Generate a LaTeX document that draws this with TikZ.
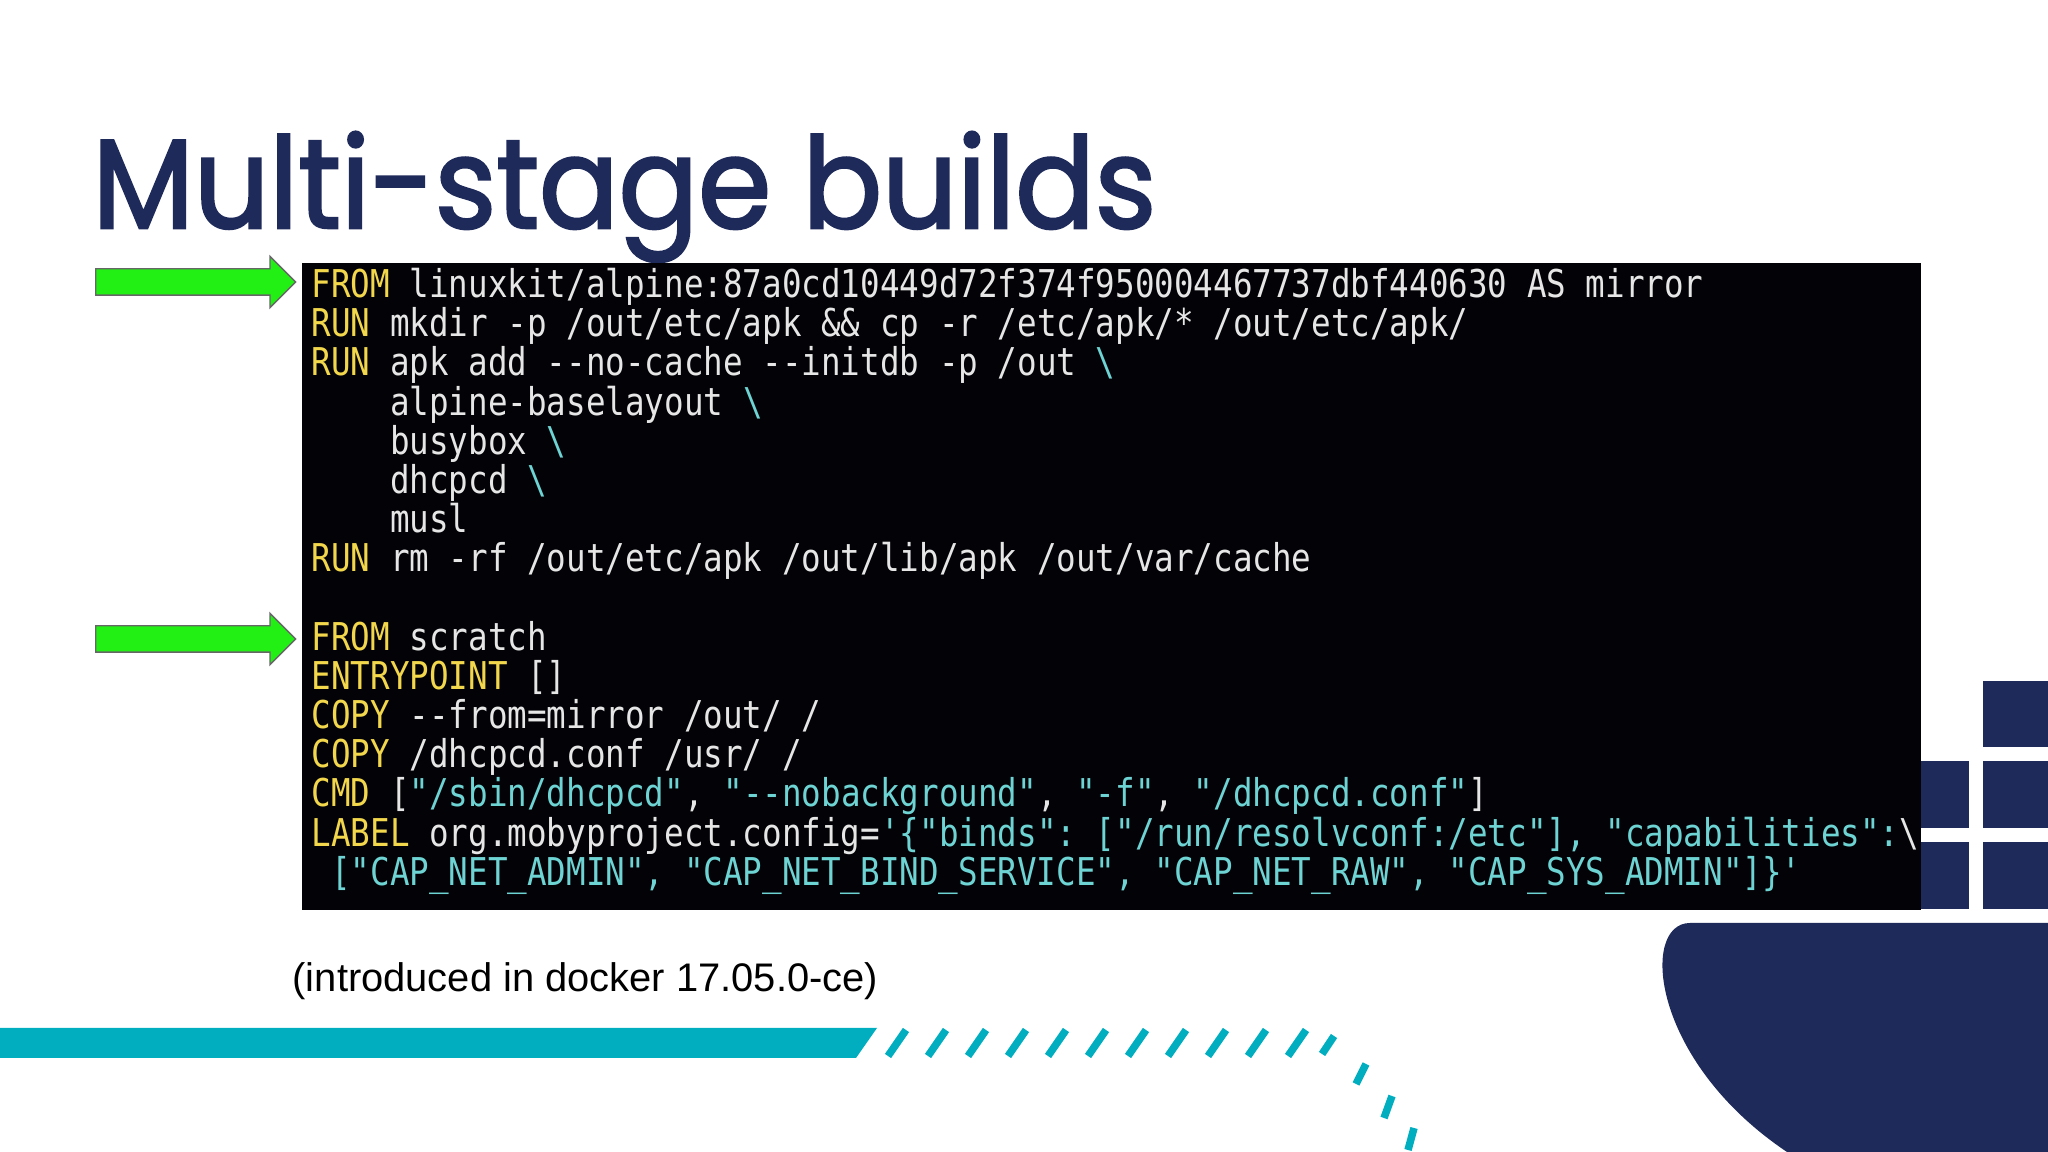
\documentclass[tikz,border=0pt]{standalone}
\usepackage{fontspec}
\setmainfont{Liberation Sans}
\setmonofont{DejaVu Sans Mono}[FakeStretch=0.85]
\newfontfamily\titlefont{Poppins}[FakeStretch=0.93, FakeBold=2]
\usetikzlibrary{positioning, shapes.arrows}

\definecolor{navy}{HTML}{1E2A5A}
\definecolor{teal}{HTML}{00AEC0}
\definecolor{termbg}{HTML}{020207}
\definecolor{kwyellow}{HTML}{F2D64B}
\definecolor{strcyan}{HTML}{6ED3D3}
\definecolor{codewhite}{HTML}{E6E6E6}
\definecolor{arrowgreen}{HTML}{22F014}

\newcommand{\kw}[1]{\textcolor{kwyellow}{#1}}
\newcommand{\str}[1]{\textcolor{strcyan}{#1}}
\newcommand{\ind}{\phantom{xxxx}}

\begin{document}
\begin{tikzpicture}[
    x=0.1mm, y=-0.1mm,
    % Styles
    code/.style={% one line of the Dockerfile
        anchor=base west,
        inner sep=0pt,
        font=\ttfamily\fontsize{10.9pt}{12pt}\selectfont,
        text=codewhite,
        },
    marker/.style={% green arrows pointing at FROM
        single arrow,
        draw=black!60,
        fill=arrowgreen,
        inner sep=0pt,
        minimum height=20mm,
        minimum width=5mm,
        single arrow head extend=1.25mm,
        single arrow head indent=0pt,
        anchor=west,
        },
    stripe/.style={% teal hatching
        teal,
        line width=0.75mm,
        },
    ]

\useasboundingbox (0,0) rectangle (2048,1152);

%Background shapes
    % Teal bar and hatching
    \fill[teal] (0,1028) -- (877,1028) -- (856,1058) -- (0,1058) -- cycle;
    \foreach \i in {0,...,10}{
        \draw[stripe] (888+\i*40,1056) -- (906+\i*40,1030);
    }
    \draw[stripe] (1322,1054) -- (1334,1036);
    \draw[stripe] (1356,1084) -- (1366,1064);
    \draw[stripe] (1384,1118) -- (1392,1096);
    \draw[stripe] (1408,1150) -- (1414,1128);

    % Hull
    \fill[navy] (2048,923) -- (1690,923) .. controls (1640,923) and (1650,1060) .. (1787,1152) -- (2048,1152) -- cycle;

    % Containers
    \fill[navy] (1983,681) rectangle (2048,747);
    \fill[navy] (1900,761) rectangle (1969,828);
    \fill[navy] (1983,761) rectangle (2048,828);
    \fill[navy] (1900,842) rectangle (1969,909);
    \fill[navy] (1983,842) rectangle (2048,909);

% Title
    \node[anchor=base west, inner sep=0pt, text=navy,
          font=\titlefont\fontsize{36pt}{40pt}\selectfont] (title) at (92,228) {Multi-stage builds};

% Terminal
    \fill[termbg] (302,263) rectangle (1921,910);

    \node[code] (l1) at (311,298) {\kw{FROM} linuxkit/alpine:87a0cd10449d72f374f950004467737dbf440630 AS mirror};
    \node[code] (l2) at (311,337) {\kw{RUN} mkdir -p /out/etc/apk \&\& cp -r /etc/apk/* /out/etc/apk/};
    \node[code] (l3) at (311,376) {\kw{RUN} apk add --no-cache --initdb -p /out \str{\textbackslash}};
    \node[code] (l4) at (311,416) {\ind alpine-baselayout \str{\textbackslash}};
    \node[code] (l5) at (311,455) {\ind busybox \str{\textbackslash}};
    \node[code] (l6) at (311,494) {\ind dhcpcd \str{\textbackslash}};
    \node[code] (l7) at (311,533) {\ind musl};
    \node[code] (l8) at (311,572) {\kw{RUN} rm -rf /out/etc/apk /out/lib/apk /out/var/cache};
    \node[code] (l10) at (311,651) {\kw{FROM} scratch};
    \node[code] (l11) at (311,690) {\kw{ENTRYPOINT} []};
    \node[code] (l12) at (311,729) {\kw{COPY} --from=mirror /out/ /};
    \node[code] (l13) at (311,768) {\kw{COPY} /dhcpcd.conf /usr/ /};
    \node[code] (l14) at (311,807) {\kw{CMD} [\str{"/sbin/dhcpcd"}, \str{"--nobackground"}, \str{"-f"}, \str{"/dhcpcd.conf"}]};
    \node[code] (l15) at (311,847) {\kw{LABEL} org.mobyproject.config=\str{'\{"binds": ["/run/resolvconf:/etc"], "capabilities":}\textbackslash};
    \node[code] (l16) at (311,886) {\phantom{x}\str{["CAP\_NET\_ADMIN", "CAP\_NET\_BIND\_SERVICE", "CAP\_NET\_RAW", "CAP\_SYS\_ADMIN"]\}'}};

% Arrows to the stages
    \node[marker] (arr1) at (95,282) {\rule{0pt}{2.5mm}};
    \node[marker] (arr2) at (95,639) {\rule{0pt}{2.5mm}};

% Note
    \node[anchor=base west, inner sep=0pt, font=\fontsize{11.35pt}{13pt}\selectfont] (note) at (292,992) {(introduced in docker 17.05.0-ce)};

\end{tikzpicture}
\end{document}
